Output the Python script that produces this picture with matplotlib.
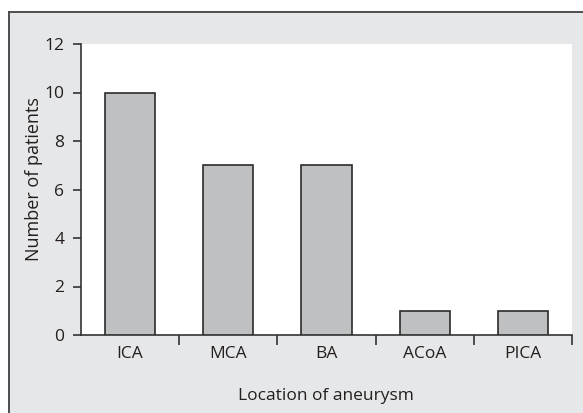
import matplotlib
matplotlib.use("Agg")
import matplotlib.pyplot as plt
from matplotlib.patches import Rectangle
from matplotlib.lines import Line2D
import numpy as np

categories = ["ICA", "MCA", "BA", "ACoA", "PICA"]
patients = [10, 7, 7, 1, 1]
yticks = [0, 2, 4, 6, 8, 10, 12]

plt.rcParams['font.family'] = ['Open Sans', 'DejaVu Sans']

W, H = 583, 413
fig = plt.figure(figsize=(W / 100, H / 100), dpi=100)
fig.patch.set_facecolor("white")

bg = "#e6e7e8"
fx, fy = 8.5 / W, 1 - 11.5 / H
fig.patches.append(Rectangle((fx, 0), 1 - fx, fy, transform=fig.transFigure,
                             facecolor=bg, edgecolor="none", zorder=-2))
fig.lines.append(Line2D([fx, 1], [fy, fy], transform=fig.transFigure, color="#4d4d4f", lw=1.4))
fig.lines.append(Line2D([fx, fx], [0, fy], transform=fig.transFigure, color="#4d4d4f", lw=1.4))

ax = fig.add_axes([81 / W, (H - 335) / H, 491 / W, 291 / H])
ax.set_facecolor("white")
x = np.arange(len(categories))
ax.bar(x, patients, width=0.51, color="#bfc0c2", edgecolor="#2b2b2b", linewidth=1.2, zorder=3)
ax.set_xlim(-0.5, len(categories) - 0.5)
ax.set_ylim(0, 12)
ax.set_yticks(yticks)
ax.set_yticklabels([str(t) for t in yticks])
ax.set_xticks(np.arange(1, len(categories) + 1) - 0.5)
ax.set_xticklabels([])
ax.set_xticks(x, minor=True)
ax.set_xticklabels(categories, minor=True)
ax.tick_params(axis="x", which="minor", length=0, pad=8, labelsize=12.5, colors="#231f20")
ax.tick_params(axis="x", which="major", direction="out", length=7, width=1.2, color="#333333")
ax.tick_params(axis="y", length=6, width=1.2, color="#333333", labelsize=12.5, labelcolor="#231f20", pad=6)
for s in ["top", "right"]:
    ax.spines[s].set_visible(False)
for s in ["left", "bottom"]:
    ax.spines[s].set_color("#333333")
    ax.spines[s].set_linewidth(1.2)

fig.text(326 / W, 1 - 396 / H, "Location of aneurysm", ha="center", va="center", fontsize=12.5, color="#231f20")
fig.text(34 / W, 1 - 179 / H, "Number of patients", ha="center", va="center", rotation=90, fontsize=13, color="#231f20")

fig.savefig("out.png", dpi=100)
